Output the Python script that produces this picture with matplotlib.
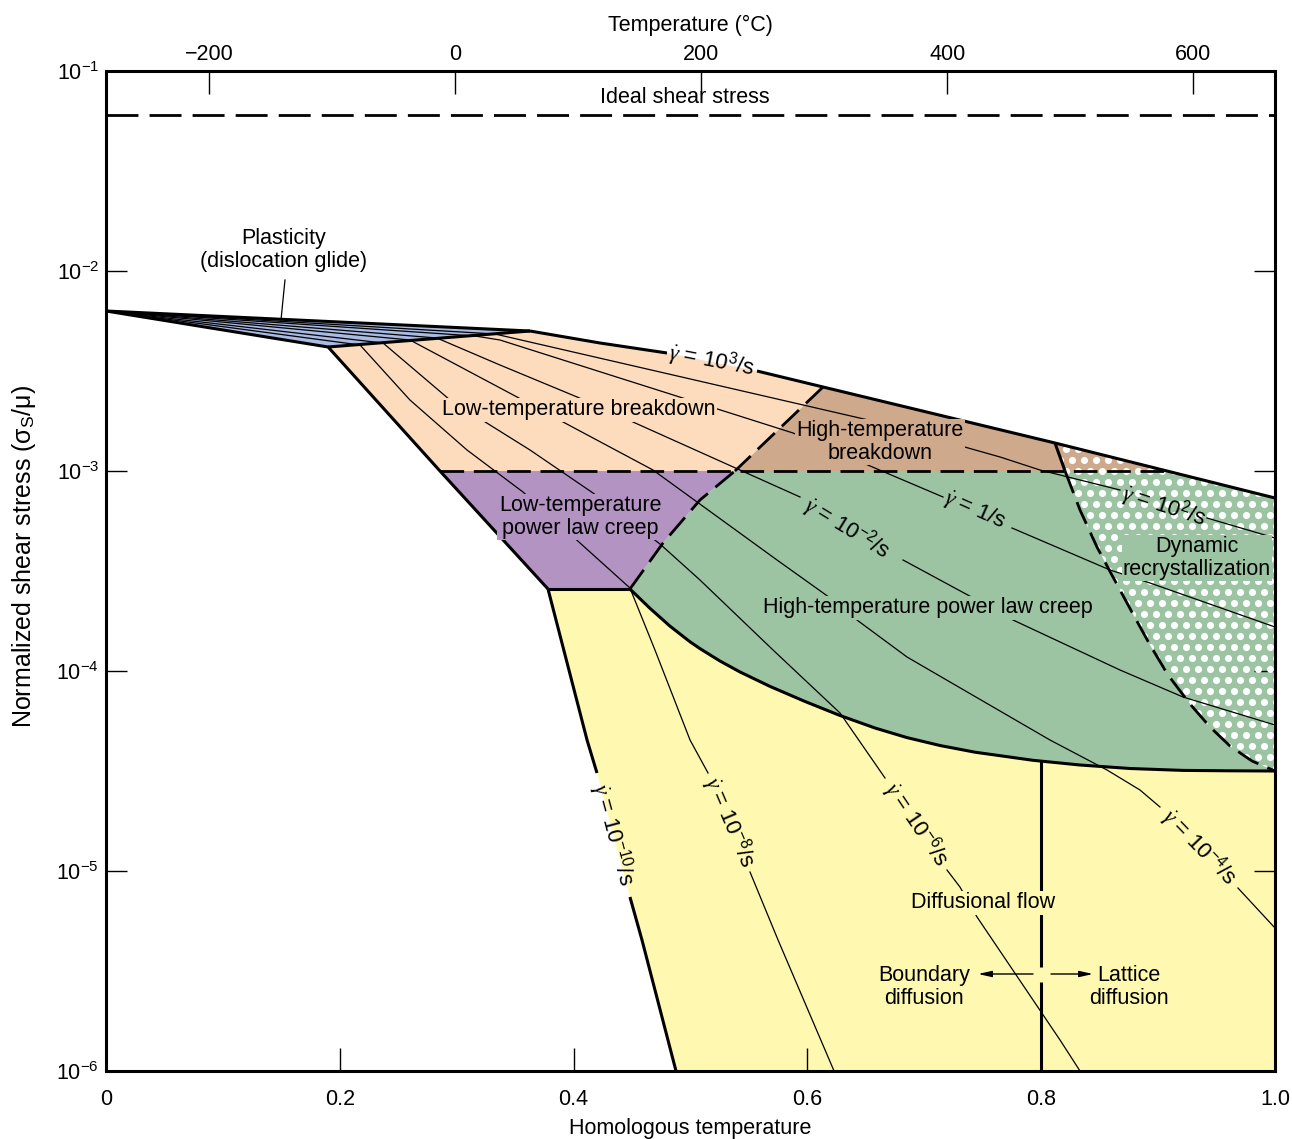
import numpy as np
import matplotlib.pyplot as plt
from matplotlib.patches import Polygon
from matplotlib.ticker import NullLocator

plt.rcParams['font.family'] = ['Liberation Sans', 'DejaVu Sans']
plt.rcParams['mathtext.fontset'] = 'custom'
plt.rcParams['mathtext.rm'] = 'Liberation Sans'
plt.rcParams['mathtext.it'] = 'Liberation Serif:italic'
plt.rcParams['lines.scale_dashes'] = False

# x = homologous temperature T/Tm, e = log10 of normalized shear stress
ideal_e = -1.22

glide_x = [0.0, 0.19, 0.3627]
glide_e = [-2.2, -2.38, -2.30]

# strain rate 10^3/s boundary (upper limit of the map)
top_x = [0.3627, 0.4226, 0.4799, 0.5569, 0.6134, 0.8118, 1.0]
top_e = [-2.30, -2.36, -2.41, -2.50, -2.58, -2.86, -3.135]

# left edge of the mapped field (10^-10/s)
left_x = [0.0, 0.19, 0.2857, 0.3781]
left_e = [-2.2, -2.38, -3.0, -3.59]
diff_left_x = [0.3781, 0.4115, 0.4200, 0.4482, 0.4585, 0.4876]
diff_left_e = [-3.59, -4.345, -4.51, -5.13, -5.345, -6.0]

# low/high temperature breakdown split, LT/HT creep split
brk_x = [0.6134, 0.538]
brk_e = [-2.58, -3.0]
creep_x = [0.4482, 0.4765, 0.5081, 0.538]
creep_e = [-3.59, -3.36, -3.145, -3.0]
ht_edge_x = [0.8118, 0.8204]
ht_edge_e = [-2.86, -3.0]

# dynamic recrystallization boundary
drx_x = [0.8204, 0.8332, 0.8477, 0.8614, 0.8785, 0.8931, 0.9085, 0.9273, 0.9444,
         0.9615, 0.9803, 1.0]
drx_e = [-3.0, -3.195, -3.38, -3.53, -3.715, -3.87, -4.02, -4.165, -4.28,
         -4.375, -4.45, -4.50]

# power law creep / diffusional flow boundary
plc_x = [0.4482, 0.4654, 0.4825, 0.4996, 0.5081, 0.5252, 0.5424, 0.568, 0.598, 0.6279,
         0.6578, 0.6852, 0.7134, 0.7434, 0.793, 0.8332, 0.876, 0.9213, 0.9615, 1.0]
plc_e = [-3.59, -3.687, -3.776, -3.854, -3.888, -3.95, -4.005, -4.077, -4.1525, -4.2225,
         -4.285, -4.333, -4.3725, -4.406, -4.4465, -4.47, -4.4875, -4.497, -4.499, -4.50]

# boundary / lattice diffusion split
split_x = 0.8
split_e = [-4.45, -5.48, np.nan, -5.555, -6.0]

# strain rate contours (nan = gap for the label)
rate_lines = {
    '-8': ([0, 0.2173, 0.260, 0.3088, 0.3567, 0.4055, 0.4482, 0.4696, 0.4996, 0.515, np.nan,
            0.5509, 0.5749, 0.6228],
           [-2.2, -2.37, -2.645, -2.895, -3.105, -3.36, -3.585, -3.895, -4.345, -4.51, np.nan,
            -5.005, -5.345, -6.0]),
    '-6': ([0, 0.237, 0.2943, 0.3627, 0.4166, 0.4739, 0.5081, 0.5706, 0.6279, 0.6664, np.nan,
            0.7194, 0.7305, 0.7451, 0.8161, 0.8332],
           [-2.2, -2.36, -2.645, -2.895, -3.11, -3.365, -3.545, -3.895, -4.21, -4.535, np.nan,
            -4.995, -5.08, -5.23, -5.845, -6.0]),
    '-4': ([0, 0.260, 0.3516, 0.391, 0.4679, 0.574, 0.6219, 0.6424, 0.6852, 0.722, 0.8075,
            0.8563, 0.8845, 0.9016, np.nan, 0.9683, 1.0],
           [-2.2, -2.345, -2.63, -2.755, -2.995, -3.445, -3.645, -3.745, -3.93, -4.055, -4.345,
            -4.495, -4.595, -4.68, np.nan, -5.085, -5.285]),
    '-2': ([0, 0.283, 0.337, 0.403, 0.4508, 0.5937, np.nan, 0.6818, 0.7451, 0.7759, 0.8674,
            0.9213, 1.0],
           [-2.2, -2.335, -2.47, -2.63, -2.755, -3.13, np.nan, -3.445, -3.645, -3.745, -3.995,
            -4.13, -4.27]),
    '0': ([0, 0.3157, 0.337, 0.5877, 0.6476, 0.716, np.nan, 0.775, 0.8589, 0.8931, 1.0],
          [-2.2, -2.325, -2.345, -2.81, -2.96, -3.13, np.nan, -3.285, -3.495, -3.56, -3.78]),
    '2': ([0, 0.3328, 0.6595, 0.7194, 0.7648, 0.799, 0.8674, np.nan, 0.9418, 1.0],
          [-2.2, -2.315, -2.755, -2.855, -2.93, -2.995, -3.095, np.nan, -3.235, -3.335]),
}

rate_labels = ['3', '2', '0', '-2', '-4', '-6', '-8', '-10']
rate_lx = [0.5175, 0.905, 0.7434, 0.6339, 0.935, 0.6929, 0.533, 0.4337]
rate_le = [-2.45, -3.175, -3.195, -3.285, -4.88, -4.765, -4.755, -4.82]
rate_rot = [-11, -18, -24, -31.5, -46, -56, -67, -75]

# temperature scale on top: T(°C) = hom * deg_per_hom + deg_offset
deg_per_hom = 950.5
deg_offset = -284.0
temp_ticks = [-200, 0, 200, 400, 600]

col_glide = '#a9bbe2'
col_ltb = '#fcdcbd'
col_htb = '#cfa98b'
col_ltc = '#b293c1'
col_htc = '#9cc4a3'
col_diff = '#fff8b0'


def S(e):
    return 10.0 ** np.asarray(e, dtype=float)


fig = plt.figure(figsize=(12.92, 11.39), dpi=100)
ax = fig.add_axes([106 / 1292, 1 - 1071 / 1139, 1169 / 1292, 1000 / 1139])
ax.set_yscale('log')
ax.set_xlim(0, 1)
ax.set_ylim(1e-6, 1e-1)

# where the 10^3/s line drops below 10^-3
x3 = float(np.interp(3.0, -np.array(top_e), top_x))

# region fills
ax.fill(plc_x + [1.0] + diff_left_x[::-1], S(plc_e + [-6.0] + diff_left_e[::-1]),
        color=col_diff, lw=0, zorder=1)
ax.fill(creep_x + [x3, 1.0] + plc_x[::-1], S(creep_e + [-3.0, -3.135] + plc_e[::-1]),
        color=col_htc, lw=0, zorder=1)
ax.fill([0.6134, 0.8118, x3, 0.538], S([-2.58, -2.86, -3.0, -3.0]),
        color=col_htb, lw=0, zorder=1)
ax.fill([0.19] + top_x[:5] + [0.538, 0.2857], S([-2.38] + top_e[:5] + [-3.0, -3.0]),
        color=col_ltb, lw=0, zorder=1)
ax.fill([0.2857] + creep_x[::-1] + [0.3781], S([-3.0] + creep_e[::-1] + [-3.59]),
        color=col_ltc, lw=0, zorder=1)
ax.fill(glide_x, S(glide_e), color=col_glide, lw=0, zorder=1)

# white dot texture for dynamic recrystallization
drx_poly_x = [0.8118, 1.0] + drx_x[::-1]
drx_poly_e = [-2.86, -3.135] + drx_e[::-1]
drx_patch = Polygon(np.column_stack([drx_poly_x, S(drx_poly_e)]), closed=True,
                    facecolor='none', edgecolor='none', transform=ax.transData)
ax.add_patch(drx_patch)
ax_w = ax.get_position().width * fig.get_figwidth() * fig.dpi
ax_h = ax.get_position().height * fig.get_figheight() * fig.dpi
gx = np.arange(0.78, 1.01, 12.0 / ax_w)
gy = np.arange(0.27, 0.66, 11.0 / ax_h)
dots = np.array([(x + (6.0 / ax_w) * (i % 2), y) for i, y in enumerate(gy) for x in gx])
sc = ax.scatter(dots[:, 0], dots[:, 1], s=26, color='white', linewidths=0,
                transform=ax.transAxes, zorder=2)
sc.set_clip_path(drx_patch)

# strain rate contours
for key, (xs, es) in rate_lines.items():
    ax.plot(xs, S(es), color='black', lw=0.9, zorder=3)

thick = dict(color='black', lw=2.2, zorder=4, solid_capstyle='butt')
dashed = dict(color='black', lw=2.0, zorder=4, dashes=(17, 7))

ax.plot([0.0, 0.3627], S([-2.2, -2.30]), **thick)
ax.plot(glide_x[1:], S(glide_e[1:]), **thick)
ax.plot(left_x, S(left_e), **thick)
ax.plot(np.insert(np.array(diff_left_x), 3, np.nan),
        S(np.insert(np.array(diff_left_e), 3, np.nan)), **thick)
ax.plot(np.insert(np.array(top_x), 3, np.nan),
        S(np.insert(np.array(top_e), 3, np.nan)), **thick)
ax.plot([0.3781, 0.4482], S([-3.59, -3.59]), **thick)
ax.plot(plc_x, S(plc_e), **thick)
ax.plot(ht_edge_x, S(ht_edge_e), **thick)
ax.plot([split_x] * len(split_e), S(split_e), **thick)

ax.plot([0.2857, x3], S([-3.0, -3.0]), **dashed)
ax.plot(brk_x, S(brk_e), **dashed)
ax.plot(creep_x, S(creep_e), **dashed)
ax.plot(drx_x, S(drx_e), **dashed)
ax.plot([0, 1], S([ideal_e, ideal_e]), color='black', lw=2.0, dashes=(23, 8), zorder=4)

# plasticity leader
ax.plot([0.1531, 0.1497], S([-2.045, -2.245]), color='black', lw=0.9, zorder=3)

fs = 15.5
for lab, x, e, rot in zip(rate_labels, rate_lx, rate_le, rate_rot):
    txt = r'$\dot{\gamma}$ = 1/s' if lab == '0' else r'$\dot{\gamma}$ = 10$^{%s}$/s' % lab
    ax.text(x, S(e), txt, rotation=rot, rotation_mode='anchor', ha='center', va='center',
            fontsize=fs + 0.5, zorder=6)


def region_label(x, e, text, bg=None):
    kw = dict(ha='center', va='center', fontsize=fs, zorder=6, linespacing=1.15)
    if bg is not None:
        kw['bbox'] = dict(facecolor=bg, edgecolor='none', pad=1.0)
    ax.text(x, S(e), text, **kw)


region_label(0.4953, -1.135, 'Ideal shear stress')
region_label(0.1523, -1.895, 'Plasticity\n(dislocation glide)')
region_label(0.4046, -2.695, 'Low-temperature breakdown', col_ltb)
region_label(0.6621, -2.855, 'High-temperature\nbreakdown', col_htb)
region_label(0.4055, -3.23, 'Low-temperature\npower law creep', col_ltc)
region_label(0.7032, -3.685, 'High-temperature power law creep', col_htc)
region_label(0.9333, -3.435, 'Dynamic\nrecrystallization', col_htc)
region_label(0.7502, -5.16, 'Diffusional flow', col_diff)
region_label(0.6997, -5.58, 'Boundary\ndiffusion', col_diff)
region_label(0.8751, -5.58, 'Lattice\ndiffusion', col_diff)

arrow = dict(arrowstyle='-|>,head_length=0.8,head_width=0.18', color='black', lw=1.0,
             shrinkA=0, shrinkB=0)
ax.annotate('', xy=(0.7460, S(-5.515)), xytext=(0.7930, S(-5.515)), arrowprops=arrow,
            zorder=6)
ax.annotate('', xy=(0.8443, S(-5.515)), xytext=(0.8084, S(-5.515)), arrowprops=arrow,
            zorder=6)

# axes styling
for sp in ax.spines.values():
    sp.set_linewidth(2.2)
ax.set_xticks([0, 0.2, 0.4, 0.6, 0.8, 1.0])
ax.set_xticklabels(['0', '0.2', '0.4', '0.6', '0.8', '1.0'])
ax.tick_params(axis='x', direction='in', length=16.5, width=1.0, labelsize=fs, pad=13,
               top=False)
ax.set_yticks(S([-6, -5, -4, -3, -2, -1]))
ax.yaxis.set_minor_locator(NullLocator())
ax.tick_params(axis='y', direction='in', length=15, width=1.0, labelsize=fs, pad=5,
               left=True, right=True)
ax.set_xlabel('Homologous temperature', fontsize=fs, labelpad=6)
ax.set_ylabel('Normalized shear stress (σ$_{\\mathrm{S}}$/μ)', fontsize=18)
ax.yaxis.set_label_coords(-0.058, 0.514)

sec = ax.secondary_xaxis('top', functions=(lambda h: h * deg_per_hom + deg_offset,
                                            lambda t: (t - deg_offset) / deg_per_hom))
sec.set_xticks(temp_ticks)
sec.tick_params(direction='in', length=16.5, width=1.0, labelsize=fs, pad=4.5)
sec.set_xlabel('Temperature (°C)', fontsize=fs, labelpad=9.5)

fig.savefig('out.png', dpi=100)
